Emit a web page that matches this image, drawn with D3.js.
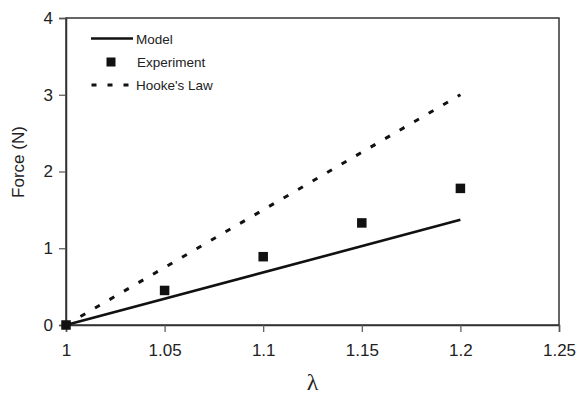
<!DOCTYPE html>
<meta charset="utf-8">
<html>
  <head>
    <script src="https://d3js.org/d3.v7.min.js"></script>
    <style>
      body { margin: 0; background: #fff; }
      text { font-family: "Liberation Sans", Arial, sans-serif; fill: #222; }
    </style>
  </head>
  <body>
    <div id="chart"></div>
    <script type="text/javascript">

      // --- data ---
      var stretch = [1, 1.05, 1.1, 1.15, 1.2];
      var experiment = [0, 0.45, 0.89, 1.33, 1.78];
      var model = [[1, 0], [1.2, 1.37]];
      var hooke = [[1, 0], [1.2, 3.0]];
      var xTicks = [1, 1.05, 1.1, 1.15, 1.2, 1.25];
      var yTicks = [0, 1, 2, 3, 4];

      var width = 576, height = 395;
      var margin = {top: 18, right: 17, bottom: 70, left: 66};

      var svg = d3.select("#chart").append("svg")
          .attr("width", width)
          .attr("height", height);

      var x = d3.scaleLinear().domain([1, 1.25]).range([margin.left, width - margin.right]);
      var y = d3.scaleLinear().domain([0, 4]).range([height - margin.bottom, margin.top]);

      // frame
      svg.append("rect")
          .attr("x", x(1)).attr("y", y(4))
          .attr("width", x(1.25) - x(1)).attr("height", y(0) - y(4))
          .attr("fill", "none").attr("stroke", "#333").attr("stroke-width", 1.5);

      // axes
      var xAxis = svg.append("g")
          .attr("transform", "translate(0," + y(0) + ")")
          .call(d3.axisBottom(x).tickValues(xTicks).tickSize(7).tickPadding(12)
            .tickFormat(function(d) { return String(+d.toFixed(2)); }));
      var yAxis = svg.append("g")
          .attr("transform", "translate(" + x(1) + ",0)")
          .call(d3.axisLeft(y).tickValues(yTicks).tickSize(7).tickPadding(6)
            .tickFormat(d3.format("d")));

      [xAxis, yAxis].forEach(function(a) {
        a.select(".domain").attr("stroke", "#333").attr("stroke-width", 1.5);
        a.selectAll(".tick line").attr("stroke", "#555").attr("stroke-width", 1.2);
        a.selectAll(".tick text")
          .style("font-family", "'Liberation Sans', Arial, sans-serif")
          .style("font-size", "17px").attr("fill", "#222");
      });

      // axis titles
      svg.append("text")
          .attr("x", (x(1) + x(1.25)) / 2).attr("y", 390)
          .attr("text-anchor", "middle")
          .style("font-family", "'Liberation Serif', 'DejaVu Serif', serif")
          .style("font-size", "24px")
          .text("λ");

      svg.append("text")
          .attr("transform", "translate(24,162) rotate(-90)")
          .attr("text-anchor", "middle")
          .style("font-size", "17px")
          .text("Force (N)");

      var line = d3.line()
          .x(function(d) { return x(d[0]); })
          .y(function(d) { return y(d[1]); });

      svg.append("path")
          .datum(hooke)
          .attr("d", line)
          .attr("fill", "none").attr("stroke", "#111")
          .attr("stroke-width", 3).attr("stroke-dasharray", "5.5,11.3");

      svg.append("path")
          .datum(model)
          .attr("d", line)
          .attr("fill", "none").attr("stroke", "#111")
          .attr("stroke-width", 2.6);

      var sq = 9.5;
      svg.append("g").selectAll("rect")
          .data(stretch)
          .enter().append("rect")
          .attr("x", function(d) { return x(d) - sq / 2; })
          .attr("y", function(d, i) { return y(experiment[i]) - sq / 2; })
          .attr("width", sq).attr("height", sq)
          .attr("fill", "#111");

      // legend
      var lg = svg.append("g").style("font-size", "13.5px");
      lg.append("line")
          .attr("x1", 91).attr("x2", 133).attr("y1", 38.5).attr("y2", 38.5)
          .attr("stroke", "#111").attr("stroke-width", 2.6);
      lg.append("text").attr("x", 136).attr("y", 43.5).text("Model");

      lg.append("rect")
          .attr("x", 111 - 4.5).attr("y", 62 - 4.5).attr("width", 9).attr("height", 9)
          .attr("fill", "#111");
      lg.append("text").attr("x", 137).attr("y", 67).text("Experiment");

      lg.append("line")
          .attr("x1", 91.5).attr("x2", 133).attr("y1", 85).attr("y2", 85)
          .attr("stroke", "#111").attr("stroke-width", 3).attr("stroke-dasharray", "5,11");
      lg.append("text").attr("x", 136).attr("y", 90).text("Hooke's Law");
    </script>
  </body>
</html>
